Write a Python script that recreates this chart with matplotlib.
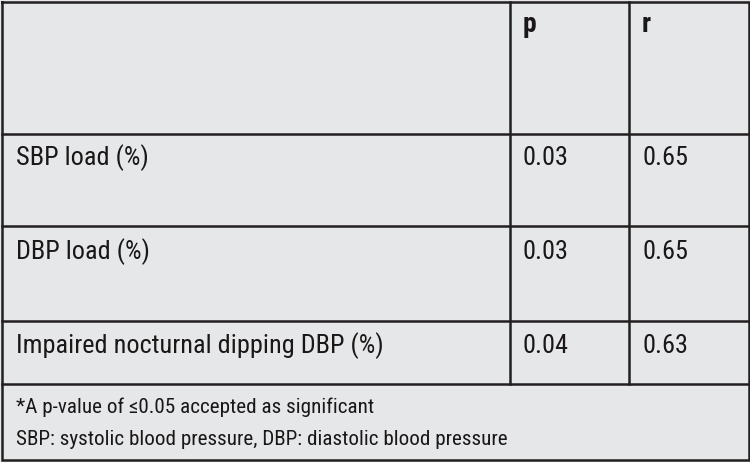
import matplotlib
matplotlib.use("Agg")
import matplotlib.pyplot as plt

# ---- data ----
col_headers = ["", "p", "r"]
row_labels = ["SBP load (%)", "DBP load (%)", "Impaired nocturnal dipping DBP (%)"]
p_values = ["0.03", "0.03", "0.04"]
r_values = ["0.65", "0.65", "0.63"]
footnotes = ["*A p-value of \u22640.05 accepted as significant",
             "SBP: systolic blood pressure, DBP: diastolic blood pressure"]

FAMILY = ["Roboto Condensed", "Liberation Sans Narrow", "PT Sans Narrow",
          "Archivo Narrow", "Fira Sans Condensed", "DejaVu Sans"]
plt.rcParams["font.family"] = FAMILY

W, H = 750, 462
BG = "#e6e7e8"
LINE = "#231f20"
TXT = "#1a1718"

fig = plt.figure(figsize=(W / 100, H / 100), dpi=100, facecolor=BG)
ax = fig.add_axes([0, 0, 1, 1])
ax.set_xlim(0, W)
ax.set_ylim(H, 0)
ax.axis("off")
ax.set_facecolor(BG)

# layout (pixels)
left, right, top, bottom = 1.5, 748.5, 1.5, 460
col_x = [left, 510, 629, right]
row_y = [top, 134, 226, 321, 384, bottom]
lw = 1.8

# outer border
ax.plot([left, right, right, left, left], [top, top, bottom, bottom, top],
        color=LINE, lw=lw, solid_joinstyle="miter")
# horizontal rules
for y in row_y[1:-1]:
    ax.plot([left, right], [y, y], color=LINE, lw=lw)
# vertical rules (table body only)
for x in col_x[1:-1]:
    ax.plot([x, x], [top, row_y[4]], color=LINE, lw=lw)

pad_x = [15, 13, 13]
fs_body = 18.9
fs_note = 15.2

# headers
for j, h in enumerate(col_headers):
    if h:
        ax.text(col_x[j] + pad_x[j], 32, h, fontsize=fs_body + 1, fontweight="bold",
                color=TXT, va="baseline", ha="left")

# body rows
baselines = [165, 259, 353]
for i, lab in enumerate(row_labels):
    b = baselines[i]
    ax.text(col_x[0] + pad_x[0], b, lab, fontsize=fs_body, color=TXT,
            va="baseline", ha="left")
    ax.text(col_x[1] + pad_x[1], b, p_values[i], fontsize=fs_body, color=TXT,
            va="baseline", ha="left")
    ax.text(col_x[2] + pad_x[2], b, r_values[i], fontsize=fs_body, color=TXT,
            va="baseline", ha="left")

# footnotes
for k, (note, b) in enumerate(zip(footnotes, [413, 445])):
    ax.text(col_x[0] + pad_x[0], b, note, fontsize=fs_note, color=TXT,
            va="baseline", ha="left")

fig.savefig("out.png", dpi=100, facecolor=BG)
